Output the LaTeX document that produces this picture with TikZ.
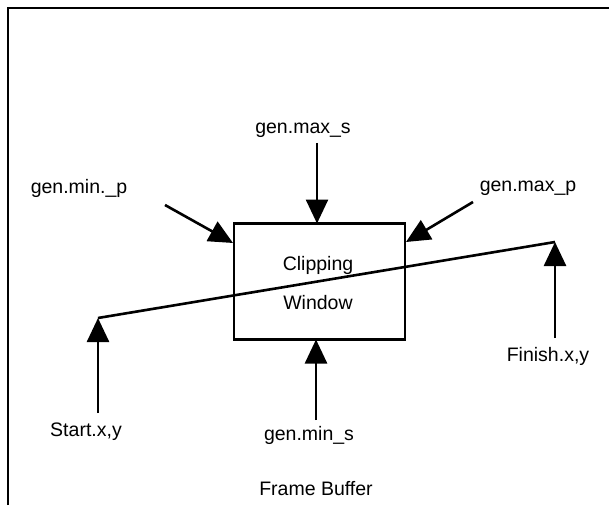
\documentclass[tikz,border=0pt]{standalone}
\usepackage{fontspec}
\setmainfont{Liberation Sans}
\usetikzlibrary{arrows.meta}
\begin{document}
\begin{tikzpicture}[x=1pt,y=-1pt,
  lbl/.style={font=\fontsize{19.5}{23}\selectfont, inner sep=0pt, anchor=center},
  conn/.style={line width=2.6pt, -{Triangle[length=24pt,width=22pt]}},
  plain/.style={line width=2.6pt}]
\useasboundingbox (0,0) rectangle (609,505);
% frame (open on right and bottom)
\draw[line width=2pt] (8,505) -- (8,8) -- (609,8);
% clipping window
\node (box) [draw, line width=2.5pt, minimum width=171pt, minimum height=116pt, inner sep=0pt] at (319.5,281.5) {};
\node (clip) [lbl] at (318,265) {Clipping};
\node (win) [lbl] at (318,303) {Window};
% labels
\node (maxs) [lbl] at (303,130) {gen.max\_s};
\node (minp) [lbl] at (79,188) {gen.min.\_p};
\node (maxp) [lbl] at (528,188) {gen.max\_p};
\node (start) [lbl] at (86,432) {Start.x,y};
\node (mins) [lbl] at (309,435) {gen.min\_s};
\node (finish) [lbl] at (548,356) {Finish.x,y};
\node (fb) [lbl] at (316,489) {Frame Buffer};
% coordinates
\coordinate (maxsA) at (317,143);
\coordinate (maxsT) at (317,223.5);
\coordinate (minpA) at (165,205);
\coordinate (minpT) at (233,243);
\coordinate (maxpA) at (473,202);
\coordinate (maxpT) at (406,242);
\coordinate (minsA) at (316,420);
\coordinate (minsT) at (316,339.5);
\coordinate (stA) at (98,413);
\coordinate (stT) at (98,318);
\coordinate (fiA) at (555,338);
\coordinate (fiT) at (555,242);
% connectors
\draw[conn] (maxsA) -- (maxsT);
\draw[conn] (minpA) -- (minpT);
\draw[conn] (maxpA) -- (maxpT);
\draw[conn] (minsA) -- (minsT);
\draw[conn] (stA) -- (stT);
\draw[conn] (fiA) -- (fiT);
\draw[plain] (stT) -- (fiT);
\end{tikzpicture}
\end{document}
